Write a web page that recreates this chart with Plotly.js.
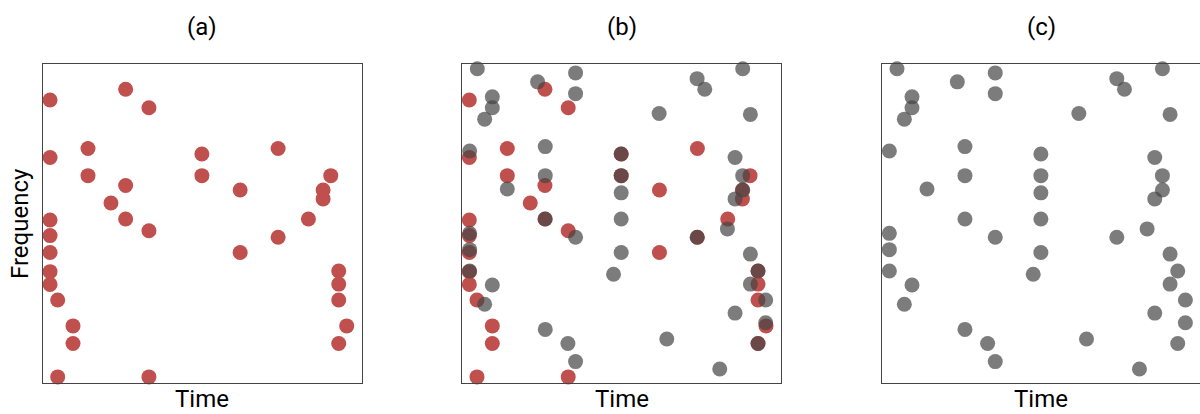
<!DOCTYPE html>
<html>
<head>
<meta charset="utf-8">
<script src="https://cdn.plot.ly/plotly-3.0.1.min.js"></script>
<style>
html,body{margin:0;padding:0;background:#fff;overflow:hidden;}
#chart{width:1201px;height:414px;}
</style>
</head>
<body>
<div id="chart"></div>
<script>
// Panel titles
const panelTitles = ["(a)", "(b)", "(c)"];
const xLabel = "Time";
const yLabel = "Frequency";

// Red series (shown in panels a and b)
const redTime = [2.3, 26.0, 33.3, 2.3, 14.2, 14.2, 49.9, 49.9, 73.8, 90.3, 87.9, 87.9,
  26.0, 21.4, 26.0, 33.3, 61.9, 61.9, 73.8, 83.3, 2.3, 2.3, 2.3, 2.3, 2.3, 4.7,
  9.5, 9.5, 4.7, 33.3, 92.8, 92.8, 92.8, 95.3, 92.8];
const redFreq = [88.8, 92.2, 86.4, 70.8, 73.6, 65.1, 71.9, 65.1, 73.6, 65.1, 60.6, 57.8,
  62.0, 56.5, 51.5, 47.8, 60.6, 41.0, 45.8, 51.5, 51.2, 46.3, 41.0, 35.0, 31.0, 26.1,
  18.0, 12.5, 2.0, 2.0, 35.2, 31.1, 26.1, 18.0, 12.5];

// Gray series (shown in panels b and c)
const grayTime = [4.8, 23.7, 35.6, 35.6, 9.5, 9.5, 7.1, 73.7, 76.1, 88.0, 61.8, 90.4,
  2.4, 26.1, 26.1, 14.2, 26.1, 49.9, 49.9, 49.9, 49.9, 49.9, 47.5, 35.6, 73.7,
  85.6, 88.0, 88.0, 85.6, 83.2, 90.4, 92.8, 90.4, 95.2, 85.6, 95.2, 92.8,
  2.4, 2.4, 2.4, 9.5, 7.1, 26.1, 33.2, 35.6, 64.2, 80.8];
const grayFreq = [98.6, 94.5, 97.3, 90.8, 89.8, 86.4, 82.8, 95.5, 92.2, 98.6, 84.6, 84.3,
  72.8, 74.2, 65.1, 60.9, 51.5, 71.9, 65.1, 59.7, 51.5, 41.0, 34.2, 45.8, 45.8,
  70.8, 65.1, 60.6, 57.8, 48.4, 40.5, 35.2, 31.1, 26.1, 22.0, 19.0, 12.5,
  47.0, 41.9, 35.2, 30.8, 24.8, 16.9, 12.5, 6.8, 13.9, 4.5];

const W = 1201, H = 414;
const panelLeft = [42.7, 462.0, 881.7];
const panelW = 319;
const panelTop = 64.3, panelBottom = 383.3;

const redStyle = {color: "#c0504d", size: 15, line: {width: 0}};
const grayStyle = {color: "rgba(68,68,68,0.7)", size: 15, line: {width: 0}};

function trace(x, y, style, ax) {
  return {type: "scatter", mode: "markers", x: x, y: y, marker: style,
    xaxis: "x" + ax, yaxis: "y" + ax, cliponaxis: false, hoverinfo: "skip", showlegend: false};
}

const data = [
  trace(redTime, redFreq, redStyle, ""),
  trace(redTime, redFreq, redStyle, "2"),
  trace(grayTime, grayFreq, grayStyle, "2"),
  trace(grayTime, grayFreq, grayStyle, "3")
];
data[0].xaxis = "x"; data[0].yaxis = "y";

const yDom = [1 - panelBottom / H, 1 - panelTop / H];
const axBase = {showgrid: false, zeroline: false, showticklabels: false, ticks: "",
  showline: true, mirror: true, linecolor: "#444", linewidth: 1, fixedrange: true};

const layout = {
  width: W, height: H,
  margin: {l: 0, r: 0, t: 0, b: 0},
  paper_bgcolor: "#fff", plot_bgcolor: "#fff",
  font: {family: "Roboto, sans-serif", color: "#000"},
  annotations: []
};
const fs = 24;
["", "2", "3"].forEach((s, i) => {
  layout["xaxis" + s] = Object.assign({}, axBase, {
    range: [0, 100], domain: [panelLeft[i] / W, (panelLeft[i] + panelW) / W], anchor: "y" + s});
  layout["yaxis" + s] = Object.assign({}, axBase, {
    range: [0, 100], domain: yDom, anchor: "x" + s});
  const cx = (panelLeft[i] + panelW / 2) / W;
  layout.annotations.push({text: panelTitles[i], xref: "paper", yref: "paper",
    x: cx, y: 1 - 27 / H, xanchor: "center", yanchor: "middle", showarrow: false,
    font: {size: fs, color: "#000"}});
  layout.annotations.push({text: xLabel, xref: "paper", yref: "paper",
    x: cx, y: 1 - 399 / H, xanchor: "center", yanchor: "middle", showarrow: false,
    font: {size: fs, color: "#000"}});
});
layout.annotations.push({text: yLabel, xref: "paper", yref: "paper",
  x: 20 / W, y: 1 - 224 / H, xanchor: "center", yanchor: "middle", textangle: -90,
  showarrow: false, font: {size: fs, color: "#000"}});

Plotly.newPlot("chart", data, layout, {staticPlot: true, displayModeBar: false});
</script>
</body>
</html>
